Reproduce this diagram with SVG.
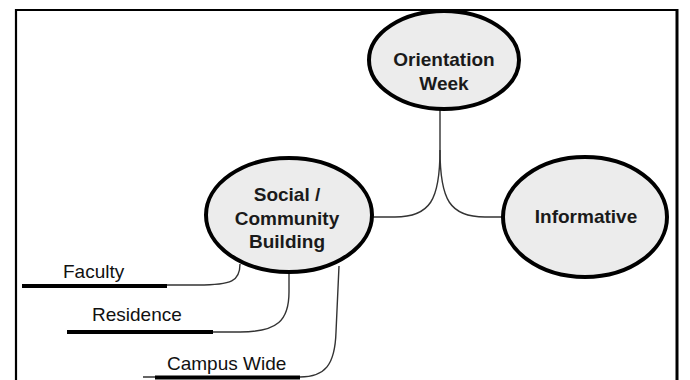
<svg xmlns="http://www.w3.org/2000/svg" width="690" height="380" viewBox="0 0 690 380">
  <style>
    .frame { fill: none; stroke: #000; }
    .node ellipse { fill: #ececec; stroke: #000; stroke-width: 4; }
    .node text { font-family: "Liberation Sans", Arial, sans-serif; font-size: 19px; font-weight: bold; fill: #1a1a1a; text-anchor: middle; }
    .branch { fill: none; stroke: #333; stroke-width: 1.4; }
    .bar { stroke: #000; stroke-width: 4; }
    .label { font-family: "Liberation Sans", Arial, sans-serif; font-size: 19px; fill: #111; }
  </style>
  <rect width="690" height="380" fill="#fff"/>

  <!-- page frame (bottom edge runs off the sheet) -->
  <path class="frame" d="M16 381 V10 H677" stroke-width="2.2"/>
  <path class="frame" d="M677 9 V381" stroke-width="3"/>

  <!-- connectors -->
  <g id="connectors">
    <path class="branch" d="M440 109 V150 C440 200 430 217 395 217 H372"/>
    <path class="branch" d="M440 150 C440 200 450 217 485 217 H503"/>
    <path class="branch" d="M240 264 C240 281 232 285 198 285 H167"/>
    <path class="branch" d="M289 272 V292 C289 320 278 332 240 332 H213"/>
    <path class="branch" d="M339 266 L336 332 C335 365 325 377 300 377 H143"/>
  </g>

  <!-- leaf bars -->
  <g id="faculty">
    <line class="bar" x1="22" y1="286" x2="167" y2="286"/>
    <text class="label" x="63" y="278">Faculty</text>
  </g>
  <g id="residence">
    <line class="bar" x1="67" y1="332" x2="213" y2="332"/>
    <text class="label" x="92" y="321">Residence</text>
  </g>
  <g id="campus-wide">
    <line class="bar" x1="155" y1="377.5" x2="300" y2="377.5"/>
    <text class="label" x="167" y="370">Campus Wide</text>
  </g>

  <!-- topic ellipses -->
  <g id="orientation-week" class="node">
    <ellipse cx="444" cy="60" rx="75" ry="49"/>
    <text x="444" y="66">Orientation</text>
    <text x="444" y="90">Week</text>
  </g>
  <g id="social-community" class="node">
    <ellipse cx="289" cy="215" rx="83" ry="57"/>
    <text x="287" y="201">Social /</text>
    <text x="287" y="225">Community</text>
    <text x="287" y="248">Building</text>
  </g>
  <g id="informative" class="node">
    <ellipse cx="585" cy="217" rx="82" ry="60"/>
    <text x="586" y="223">Informative</text>
  </g>
</svg>
